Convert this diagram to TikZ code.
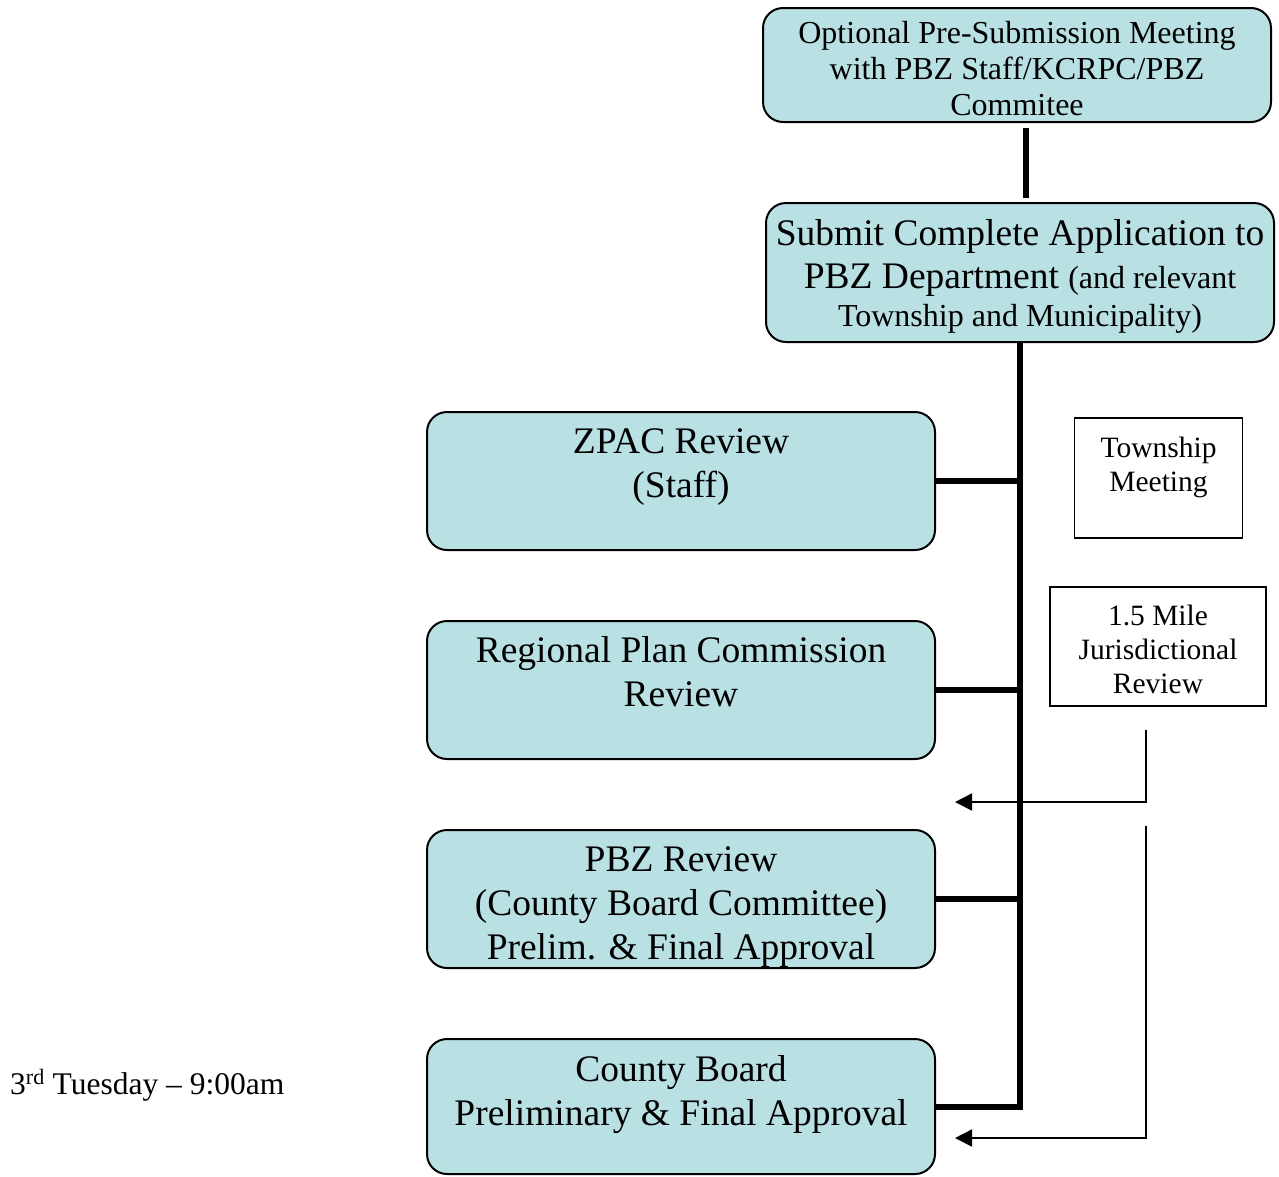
\documentclass[tikz,border=0pt]{standalone}
\usepackage{fontspec}
\setmainfont{Liberation Serif}
\usetikzlibrary{arrows.meta,calc}
\definecolor{boxfill}{RGB}{185,224,227}
\tikzset{
  x=1pt, y=-1pt,
  bluebox/.style={draw=black, line width=2pt, fill=boxfill, rounded corners=20pt, inner sep=0pt},
  plainbox/.style={draw=black, line width=1.6pt, fill=white, inner sep=0pt},
  txt/.style={align=center, inner sep=0pt},
  big/.style={font=\fontsize{37.5}{44}\selectfont},
  mid/.style={font=\fontsize{32}{36}\selectfont},
  sml/.style={font=\fontsize{29.5}{34}\selectfont},
  thickline/.style={line width=6pt},
  thinarrow/.style={line width=1.6pt, -{Triangle[length=17pt,width=17pt]}},
}
\begin{document}
\begin{tikzpicture}
\useasboundingbox (0,0) rectangle (1279,1176);
% boxes
\node[bluebox, minimum width=508pt, minimum height=114pt] (pre) at (1017,65) {};
\node[bluebox, minimum width=508pt, minimum height=139pt] (sub) at (1020,272.5) {};
\node[bluebox, minimum width=508pt, minimum height=138pt] (zp) at (681,481) {};
\node[bluebox, minimum width=508pt, minimum height=138pt] (rp) at (681,690) {};
\node[bluebox, minimum width=508pt, minimum height=138pt] (pb) at (681,899) {};
\node[bluebox, minimum width=508pt, minimum height=135pt] (cb) at (681,1106.5) {};
\node[plainbox, minimum width=168pt, minimum height=120pt] (tw) at (1158.5,478) {};
\node[plainbox, minimum width=216pt, minimum height=119pt] (mi) at (1158,646.5) {};
% texts
\node[txt, mid] (preT) at (1017,69) {Optional Pre-Submission Meeting\\with PBZ Staff/KCRPC/PBZ\\Commitee};
\node[txt, font=\fontsize{37.5}{42}\selectfont] (subT) at (1020,276) {Submit Complete Application to\\[1pt]
  PBZ Department {\fontsize{32}{42}\selectfont (and relevant}\\[-4pt]
  {\fontsize{32}{42}\selectfont Township and Municipality)}};
\node[txt, big] (zpT) at (681,467.5) {ZPAC Review\\(Staff)};
\node[txt, big] (rpT) at (681,672) {Regional Plan Commission\\Review};
\node[txt, big] (pbT) at (681,907) {PBZ Review\\(County Board Committee)\\Prelim. \& Final Approval};
\node[txt, big] (cbT) at (681,1094.5) {County Board\\Preliminary \& Final Approval};
\node[txt, sml] (twT) at (1158.5,467) {Township\\Meeting};
\node[txt, sml] (miT) at (1158,649) {1.5 Mile\\Jurisdictional\\Review};
\node[anchor=base west, inner sep=0pt, font=\fontsize{31.5}{36}\selectfont] (tue) at (10,1094) {3\textsuperscript{rd} Tuesday – 9:00am};
% connectors
\coordinate (c1) at (1026,128);
\coordinate (c2) at (1026,198);
\draw[thickline] (c1) -- (c2);
\draw[thickline] (sub.south) |- (cb.east);
\draw[thickline] (zp.east) -- (zp.east -| sub.south);
\draw[thickline] (rp.east) -- (rp.east -| sub.south);
\draw[thickline] (pb.east) -- (pb.east -| sub.south);
\coordinate (m1) at (1146,730);
\coordinate (a1) at (955,802);
\coordinate (m2) at (1146,826);
\coordinate (a2) at (955,1138);
\draw[thinarrow] (m1) |- (a1);
\draw[thinarrow] (m2) |- (a2);
\end{tikzpicture}
\end{document}
